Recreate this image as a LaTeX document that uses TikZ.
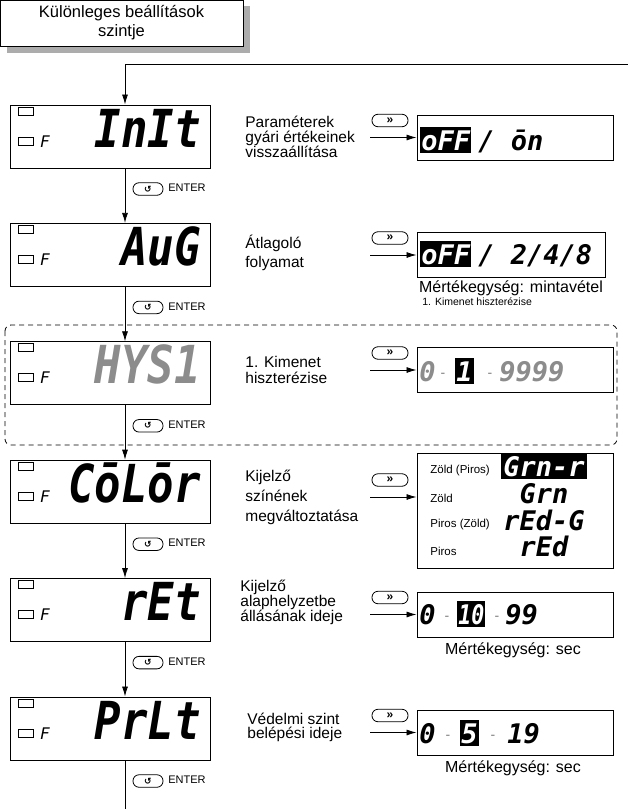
\documentclass[tikz,border=0pt]{standalone}
\usepackage{fontspec}
\setmainfont{Liberation Sans}
\newfontfamily\segfont{DejaVu Sans Mono}
\newfontfamily\symfont{DejaVu Sans}
\usetikzlibrary{arrows.meta}

\begin{document}
\begin{tikzpicture}[x=1pt, y=-1pt, line width=0.8pt, >={Latex[length=10pt,width=6pt]},
  disp/.style={draw, line width=1pt, minimum width=200pt, minimum height=63pt, inner sep=0},
  optbox/.style={draw, line width=1pt, minimum width=196pt, minimum height=45pt, inner sep=0},
  seg/.style={font=\segfont\bfseries\itshape\fontsize{44}{44}\selectfont, inner sep=0},
  segf/.style={font=\segfont\itshape\fontsize{16}{16}\selectfont, inner sep=0},
  optseg/.style={font=\segfont\bfseries\itshape\fontsize{27}{27}\selectfont, inner sep=0},
  hilite/.style={fill=black, text=white, inner xsep=1pt, inner ysep=3pt},
  desc/.style={anchor=west, align=left, inner sep=0},
  btn/.style={draw, line width=0.8pt, rounded corners=6pt, minimum height=12.5pt, inner sep=0},
  unit/.style={font=\fontsize{16}{16}\selectfont, inner sep=0},
  sdash/.style={font=\fontsize{14}{14}\selectfont, text=black!50, inner sep=0}]
  \useasboundingbox (0,0) rectangle (628,809);

  % title box with shadow
  \fill[gray!65] (7,6) rectangle (250,53);
  \node[draw, fill=white, line width=1pt, minimum width=243pt, minimum height=46pt, align=center,
        font=\fontsize{16.5}{19}\selectfont] (title) at (121.5,23) {Különleges beállítások\\szintje};

  % group of the first output
  \draw[dash pattern=on 5pt off 4pt, rounded corners=6pt] (5,325) rectangle (617,445);

  % displays on the left
  \foreach \i/\code/\clr in {1/InIt/black,2/AuG/black,3/HYS1/black!45,4/CōLōr/black,5/rEt/black,6/PrLt/black}{
    \pgfmathsetmacro{\yt}{105+118.4*(\i-1)}
    \node[disp] (disp\i) at (110,\yt+31.5) {};
    \draw[line width=0.7pt] (18,\yt+2) rectangle (33,\yt+10) (18,\yt+32) rectangle (33,\yt+40);
    \node[segf, anchor=base] (ind\i) at (45,\yt+42) {F};
    \node[seg, text=\clr, anchor=base east] (code\i) at (201,\yt+42) {\scalebox{1}[1.19]{\code}};
    \node[btn, minimum width=30pt] (enter\i) at (148,\yt+84) {\symfont\bfseries\fontsize{9}{9}\selectfont ↺};
    \node[anchor=west, font=\fontsize{11}{11}\selectfont, inner sep=0] (entert\i) at (168,\yt+83) {ENTER};
  }

  % descriptions
  \node[desc, font=\fontsize{15.5}{14.5}\selectfont] (desc1) at (245,137) {Paraméterek\\gyári értékeinek\\visszaállítása};
  \node[desc, font=\fontsize{15.5}{19.5}\selectfont] (desc2) at (245,253) {Átlagoló\\folyamat};
  \node[desc, font=\fontsize{15.5}{15.5}\selectfont] (desc3) at (245,370) {1. Kimenet\\hiszterézise};
  \node[desc, font=\fontsize{15.5}{20}\selectfont] (desc4) at (245,497) {Kijelző\\színének\\megváltoztatása};
  \node[desc, font=\fontsize{15.5}{15}\selectfont] (desc5) at (240,602) {Kijelző\\alaphelyzetbe\\állásának ideje};
  \node[desc, font=\fontsize{15.5}{14}\selectfont] (desc6) at (247,727) {Védelmi szint\\belépési ideje};

  % main flow
  \coordinate (loopin) at (628,64);
  \draw[->] (loopin) -- ([xshift=15pt]loopin -| disp1.north) -- ([xshift=15pt]disp1.north);
  \foreach \i [evaluate=\i as \j using int(\i+1)] in {1,...,5}
    \draw[->] ([xshift=15pt]disp\i.south) -- ([xshift=15pt]disp\j.north);
  \coordinate (flowend) at (125,809);
  \draw ([xshift=15pt]disp6.south) -- (flowend);

  % setting boxes on the right
  \node[optbox] (opt1) at (515,137.5) {};
  \node[optbox, minimum width=188pt] (opt2) at (511,255) {};
  \node[optbox] (opt3) at (515,370) {};
  \node[optbox, minimum height=115pt] (opt4) at (515,510.5) {};
  \node[optbox] (opt5) at (515,614.5) {};
  \node[optbox] (opt6) at (515,732.5) {};
  \foreach \i/\ya in {1/137.5,2/255,3/370,4/497,5/614.5,6/732.5}{
    \coordinate (arr\i) at (370,\ya);
    \draw[->] (arr\i) -- (arr\i -| opt\i.west);
    \node[btn, minimum width=36pt] (next\i) at (390,\ya-17) {\fontsize{12}{12}\selectfont\bfseries »};
  }

  % values
  \node[optseg, hilite, anchor=base west] (off1) at (420,150) {oFF};
  \node[optseg, anchor=base west] (on1) at (478,150) {/ ōn};
  \node[optseg, hilite, anchor=base west] (off2) at (420,264) {oFF};
  \node[optseg, anchor=base west] (vals2) at (478,264) {/ 2/4/8};
  \node[unit] (unit2) at (511,288) {Mértékegység: mintavétel};
  \node[font=\fontsize{10.5}{10.5}\selectfont, anchor=west, inner sep=0] (note2) at (422,302) {1. Kimenet hiszterézise};

  \foreach \i/\yb/\mid/\hi/\clr/\da/\xm/\db/\xh in {3/381/1/9999/black!45/443/455/490/499,
      5/624/{\scalebox{0.8}[1]{10}}/99/black/447/457/497/505, 6/743/5/19/black/448/460/493/507}{
    \node[optseg, text=\clr, anchor=base west] (lo\i) at (419,\yb) {0};
    \node[sdash, anchor=base] (dasha\i) at (\da,\yb-4) {-};
    \node[optseg, hilite, anchor=base west] (mid\i) at (\xm,\yb) {\mid};
    \node[sdash, anchor=base] (dashb\i) at (\db,\yb-4) {-};
    \node[optseg, text=\clr, anchor=base west] (hi\i) at (\xh,\yb) {\hi};
  }
  \node[unit] (unit5) at (513,650) {Mértékegység: sec};
  \node[unit] (unit6) at (513,768) {Mértékegység: sec};

  % colour choices
  \node[optseg, hilite, inner xsep=2pt, anchor=base] (ccode1) at (544,476) {Grn-r};
  \foreach \r/\lab/\yb in {1/Zöld (Piros)/476, 2/Zöld/503, 3/Piros (Zöld)/530, 4/Piros/556}{
    \node[anchor=west, font=\fontsize{11.5}{11.5}\selectfont, inner sep=0] (clab\r) at (430,\yb-5) {\lab};
  }
  \node[optseg, anchor=base] (ccode2) at (544,503) {Grn};
  \node[optseg, anchor=base] (ccode3) at (544,530) {rEd-G};
  \node[optseg, anchor=base] (ccode4) at (544,556) {rEd};
\end{tikzpicture}
\end{document}
